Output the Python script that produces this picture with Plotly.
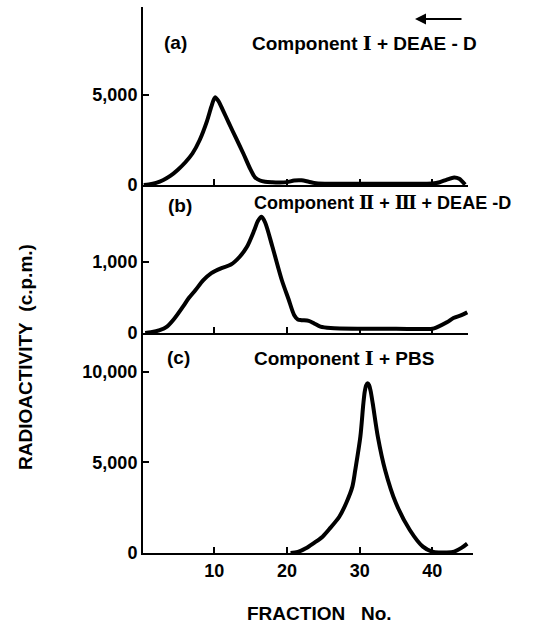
import plotly.graph_objects as go

# ---- data (fraction number, radioactivity c.p.m.) ----
frac_a = [0.3, 1, 2, 3, 4, 5, 6, 7, 8, 9, 9.6, 10.1, 10.6, 11.2, 12, 13, 14, 15, 15.6, 16.3, 17, 18, 19, 20, 21, 22, 23, 24, 26, 30, 35, 40, 41, 42, 43, 43.7, 44.5]
cpm_a = [0, 30, 120, 280, 520, 850, 1250, 1750, 2500, 3550, 4350, 4870, 4650, 4150, 3450, 2600, 1750, 850, 430, 250, 180, 150, 140, 160, 250, 260, 180, 100, 70, 70, 70, 80, 150, 300, 420, 350, 20]

frac_b = [0.5, 1.3, 2.5, 3.5, 4.5, 5.7, 6.5, 7.4, 8.5, 9.6, 11, 12.3, 13.5, 14.5, 15.5, 16.0, 16.5, 17, 18, 19.3, 20.2, 21, 21.5, 22, 23, 23.8, 24.6, 26, 30, 35, 40, 40.6, 42, 42.9, 44, 44.8]
cpm_b = [0, 10, 40, 90, 200, 370, 490, 600, 740, 840, 910, 960, 1070, 1210, 1440, 1570, 1630, 1550, 1210, 740, 480, 250, 190, 180, 170, 130, 90, 70, 60, 60, 60, 80, 150, 210, 250, 290]

frac_c = [20.5, 21.5, 22.6, 23.7, 24.9, 26, 27.2, 28.2, 29, 29.4, 30.1, 30.5, 30.7, 30.9, 31.1, 31.3, 31.5, 31.8, 32.5, 33.5, 35.0, 36.9, 38.7, 40, 41, 42, 43, 44, 44.8]
cpm_c = [0, 60, 257, 550, 900, 1400, 2000, 2800, 3660, 4580, 6420, 8200, 8900, 9250, 9360, 9250, 8950, 8250, 6420, 4580, 2740, 1270, 350, 74, 30, 30, 80, 280, 520]

x_ticks = [10, 20, 30, 40]
x_ticklabels = ["10", "20", "30", "40"]
ya_ticks = [0, 5000]
ya_labels = ["0", "5,000"]
yb_ticks = [0, 1000]
yb_labels = ["0", "1,000"]
yc_ticks = [0, 5000, 10000]
yc_labels = ["0", "5,000", "10,000"]

FONT = "Liberation Sans"
W, H = 534, 623
ML, MR, MT, MB = 143, 61, 7, 70
PW, PH = W - ML - MR, H - MT - MB


def px(x):
    return (x - ML) / PW


def py(y):
    return (H - MB - y) / PH


def roman(s):
    return '<span style="font-family:DejaVu Serif;font-weight:bold">' + s + '</span>'


line_style = dict(color="black", width=4, shape="spline", smoothing=0.8)

fig = go.Figure()
fig.add_trace(go.Scatter(x=frac_c, y=cpm_c, mode="lines", line=line_style, xaxis="x", yaxis="y", showlegend=False))
fig.add_trace(go.Scatter(x=frac_b, y=cpm_b, mode="lines", line=line_style, xaxis="x2", yaxis="y2", showlegend=False))
fig.add_trace(go.Scatter(x=frac_a, y=cpm_a, mode="lines", line=line_style, xaxis="x3", yaxis="y3", showlegend=False))

tickfont = dict(family=FONT, size=18, color="black", weight="bold")
common_x = dict(showline=True, linecolor="black", linewidth=2, ticks="inside", ticklen=6,
                tickwidth=2, tickcolor="black", tickvals=x_ticks, ticktext=x_ticklabels,
                showgrid=False, zeroline=False, tickfont=tickfont)
common_y = dict(showline=True, linecolor="black", linewidth=2, ticks="inside", ticklen=6,
                tickwidth=2, tickcolor="black", showgrid=False, zeroline=False, tickfont=tickfont)

dom_c = [0, py(333)]
dom_b = [py(333), py(185)]
dom_a = [py(185), 1]
xr_full = [0.2, 0.2 + PW / 7.27]
xr_short = [0.2, 0.2 + 325 / 7.27]

fig.update_layout(
    width=W, height=H,
    margin=dict(l=ML, r=MR, t=MT, b=MB),
    paper_bgcolor="white", plot_bgcolor="white",
    xaxis=dict(common_x, anchor="y", domain=[0, 1], range=xr_full, showticklabels=True),
    xaxis2=dict(common_x, anchor="y2", domain=[0, 325 / PW], range=xr_short, showticklabels=False),
    xaxis3=dict(common_x, anchor="y3", domain=[0, 325 / PW], range=xr_short, showticklabels=False),
    yaxis=dict(common_y, anchor="x", domain=dom_c, range=[0, 12130], tickvals=yc_ticks, ticktext=yc_labels),
    yaxis2=dict(common_y, anchor="x2", domain=dom_b, range=[0, 2076], tickvals=yb_ticks, ticktext=yb_labels),
    yaxis3=dict(common_y, anchor="x3", domain=dom_a, range=[0, 9890], tickvals=ya_ticks, ticktext=ya_labels),
)

tfont = dict(family=FONT, size=19, color="black", weight="bold")
ann = [
    dict(text="(a)", x=px(175), y=py(43), xanchor="center", yanchor="middle"),
    dict(text="Component " + roman("Ⅰ") + " + DEAE - D", x=px(250), y=py(43), xanchor="left", yanchor="middle"),
    dict(text="(b)", x=px(180), y=py(205), xanchor="center", yanchor="middle"),
    dict(text="Component " + roman("Ⅱ") + " + " + roman("Ⅲ") + " + DEAE -D", x=px(513), y=py(203), xanchor="right", yanchor="middle",
         font=dict(family=FONT, size=18, color="black", weight="bold")),
    dict(text="(c)", x=px(178), y=py(358), xanchor="center", yanchor="middle"),
    dict(text="Component " + roman("Ⅰ") + " + PBS", x=px(252), y=py(358), xanchor="left", yanchor="middle"),
    dict(text="FRACTION\u00a0\u00a0\u00a0No.", x=px(319), y=py(613), xanchor="center", yanchor="middle",
         font=dict(family=FONT, size=19, color="black", weight="bold")),
    dict(text="RADIOACTIVITY\u00a0\u00a0(c.p.m.)", x=px(26), y=py(357), xanchor="center", yanchor="middle",
         textangle=-90, font=dict(family=FONT, size=19, color="black", weight="bold")),
]
for a in ann:
    a.setdefault("font", tfont)
    a.update(xref="paper", yref="paper", showarrow=False)
    fig.add_annotation(**a)

# direction arrow (pointing left)
fig.add_annotation(x=px(415), y=py(19), xref="paper", yref="paper", ax=48, ay=0,
                   showarrow=True, arrowhead=2, arrowsize=1.1, arrowwidth=2, arrowcolor="black", text="")

fig.write_html("out.html")
